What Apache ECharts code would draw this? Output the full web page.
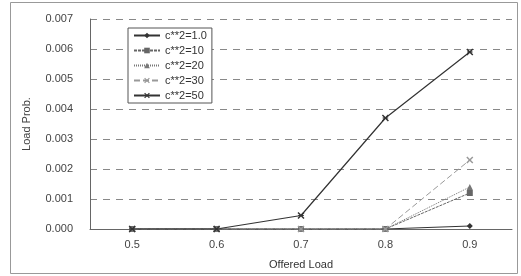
<!DOCTYPE html>
<html>
<head>
<meta charset="utf-8">
<script src="https://cdn.jsdelivr.net/npm/echarts@6/dist/echarts.min.js"></script>
<style>
  html, body { margin: 0; padding: 0; background: #fff; }
  #chart { width: 521px; height: 276px; }
</style>
</head>
<body>
<div id="chart"></div>
<script>
var loads = ['0.5', '0.6', '0.7', '0.8', '0.9'];
var c1 = [0, 0, 0, 0, 0.0001];
var c10 = [0, 0, 0, 0, 0.0012];
var c20 = [0, 0, 0, 0, 0.0014];
var c30 = [0, 0, 0, 0, 0.0023];
var c50 = [0, 0, 0.00045, 0.0037, 0.0059];
var yTicks = ['0.000', '0.001', '0.002', '0.003', '0.004', '0.005', '0.006', '0.007'];

var chart = echarts.init(document.getElementById('chart'));
var font = 'Liberation Sans';

function mkSeries(name, data, symbol, color, type, width, size) {
    return {
        name: name,
        type: 'line',
        data: data,
        symbol: symbol,
        symbolSize: size,
        itemStyle: { color: color },
        lineStyle: { color: color, type: type, width: width },
        emphasis: { disabled: true },
        animation: false
    };
}

// filled thin crosses so the marks show up
var xMark = 'path://M0,1.5 L1.5,0 L5,3.5 L8.5,0 L10,1.5 L6.5,5 L10,8.5 L8.5,10 L5,6.5 L1.5,10 L0,8.5 L3.5,5 Z';
var starMark = 'path://M0,1.5 L1.5,0 L5,3.5 L8.5,0 L10,1.5 L6.5,5 L10,8.5 L8.5,10 L5,6.5 L1.5,10 L0,8.5 L3.5,5 Z M1,4.3 L9,4.3 L9,5.7 L1,5.7 Z';

var option = {
    backgroundColor: '#fff',
    animation: false,
    grid: { left: 90, right: 9, top: 19, bottom: 47 },
    legend: {
        orient: 'vertical',
        left: 128,
        top: 28,
        itemWidth: 26,
        itemHeight: 7,
        itemGap: 4,
        padding: [2, 5, 2, 5],
        borderColor: '#555',
        borderWidth: 1,
        backgroundColor: '#fff',
        textStyle: { fontFamily: font, fontSize: 11, color: '#333' },
        data: ['c**2=1.0', 'c**2=10', 'c**2=20', 'c**2=30', 'c**2=50']
    },
    xAxis: {
        type: 'category',
        data: loads,
        boundaryGap: true,
        name: 'Offered Load',
        nameLocation: 'middle',
        nameGap: 30,
        nameTextStyle: { fontFamily: font, fontSize: 11, color: '#333' },
        axisLine: { lineStyle: { color: '#666' } },
        axisTick: { inside: true, length: 3, lineStyle: { color: '#666' } },
        axisLabel: { fontFamily: font, fontSize: 11, color: '#444', margin: 10 }
    },
    yAxis: {
        type: 'value',
        min: 0,
        max: 0.007,
        interval: 0.001,
        name: 'Load Prob.',
        nameLocation: 'middle',
        nameGap: 58,
        nameTextStyle: { fontFamily: font, fontSize: 11, color: '#444' },
        axisLine: { show: true, lineStyle: { color: '#666' } },
        axisTick: { show: false },
        axisLabel: {
            fontFamily: font, fontSize: 11, color: '#444', margin: 17,
            formatter: function (v) { return yTicks[Math.round(v * 1000)]; }
        },
        splitLine: { lineStyle: { color: '#888', type: [7, 6] } }
    },
    series: [
        mkSeries('c**2=1.0', c1, 'diamond', '#333', 'solid', 1, 6),
        mkSeries('c**2=10', c10, 'rect', '#666', [3, 1], 1, 6),
        mkSeries('c**2=20', c20, 'triangle', '#777', [1, 1], 1, 6),
        mkSeries('c**2=30', c30, xMark, '#999', [6, 3], 1, 7),
        mkSeries('c**2=50', c50, starMark, '#333', 'solid', 1.2, 7)
    ],
    graphic: [{
        type: 'rect',
        shape: { x: 10.5, y: 2.5, width: 507, height: 271 },
        style: { fill: null, stroke: '#999', lineWidth: 1 },
        silent: true,
        z: -1
    }]
};
chart.setOption(option);
</script>
</body>
</html>
